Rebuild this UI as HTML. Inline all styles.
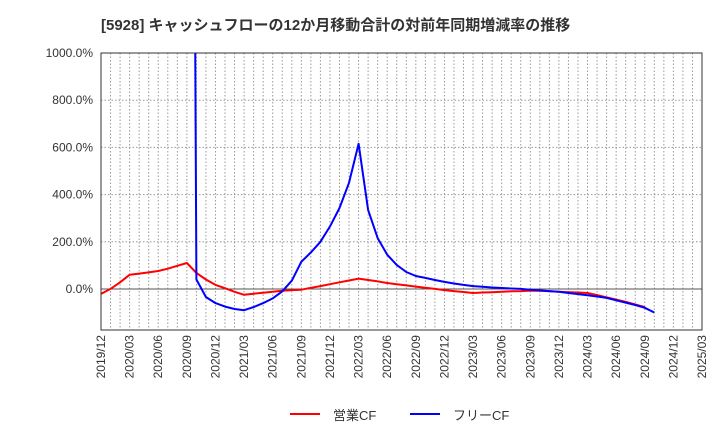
<!DOCTYPE html>
<html><head><meta charset="utf-8"><style>
body{margin:0;background:#fff;width:720px;height:440px;overflow:hidden;font-family:"Liberation Sans","Noto Sans CJK JP",sans-serif}
</style></head><body>
<svg id="c" width="720" height="440" xmlns="http://www.w3.org/2000/svg">
<text x="101" y="30" font-size="15" font-weight="bold" fill="#333" font-family="Liberation Sans, Noto Sans CJK JP, sans-serif">[5928]  キャッシュフローの12か月移動合計の対前年同期増減率の推移</text>
<g id="grid"></g><g id="series"></g><g id="axes"></g>
<g>
<line x1="290" y1="414" x2="320" y2="414" stroke="#f00" stroke-width="2"/>
<text x="333" y="420" font-size="13" fill="#333">営業CF</text>
<line x1="410" y1="414" x2="440" y2="414" stroke="#00f" stroke-width="2"/>
<text x="453" y="420" font-size="13" fill="#333">フリーCF</text>
</g>
</svg>
<script>
const xTickLabels=["2019/12","2020/03","2020/06","2020/09","2020/12","2021/03","2021/06","2021/09","2021/12","2022/03","2022/06","2022/09","2022/12","2023/03","2023/06","2023/09","2023/12","2024/03","2024/06","2024/09","2024/12","2025/03"];
const yTicks=[0,200,400,600,800,1000];
const yTickLabels=["0.0%","200.0%","400.0%","600.0%","800.0%","1000.0%"];
// monthly from 2019/12
const operatingCF=[-21,0,28,60,65,70,76,86,98,110,68,40,17,3,-12,-25,-20,-16,-12,-8,-5,-3,5,12,20,28,36,44,38,32,25,20,15,10,5,0,-5,-9,-13,-17,-15,-14,-12,-10,-9,-7,-8,-10,-12,-14,-15,-17,-26,-36,-45,-55,-66,-77];
const freeCF=[null,null,null,null,null,null,null,null,null,8000,40,-34,-60,-75,-85,-90,-77,-60,-40,-10,35,115,155,200,265,343,450,615,335,215,145,102,72,55,47,38,30,23,17,12,9,6,4,2,0,-3,-6,-9,-12,-17,-22,-27,-32,-38,-48,-58,-68,-80,-100];
const L=101,R=702,T=53,B=330,yMin=-174,yMax=1000,nM=63;
const X=i=>L+(R-L)*i/nM, Y=v=>T+(B-T)*(yMax-v)/(yMax-yMin);
const NS="http://www.w3.org/2000/svg";
function mk(tag,attrs,parent){const e=document.createElementNS(NS,tag);for(const k in attrs)e.setAttribute(k,attrs[k]);parent.appendChild(e);return e;}
const grid=document.getElementById('grid'),ax=document.getElementById('axes'),ser=document.getElementById('series');
for(let m=1;m<nM;m++){const l=mk('line',{x1:X(m),x2:X(m),y1:T,y2:B,stroke:'#999','stroke-dasharray':'1.5,2','stroke-width':1},grid);

}
yTicks.forEach((v,i)=>{const l=mk('line',{x1:L,x2:R,y1:Y(v),y2:Y(v),stroke:v===0?'#555':'#999','stroke-dasharray':v===0?'none':'1.5,2','stroke-width':1},grid);


const t=mk('text',{x:93,y:Y(v)+4,'text-anchor':'end','font-size':12,fill:'#333'},ax);t.textContent=yTickLabels[i];

});
xTickLabels.forEach((s,i)=>{const x=X(i*3)+4;const t=mk('text',{x:0,y:0,transform:`translate(${x},${B+5}) rotate(-90)`,'text-anchor':'end','font-size':12,fill:'#333'},ax);t.textContent=s;

});
const fr=mk('rect',{x:L,y:T,width:R-L,height:B-T,fill:'none',stroke:'#333','stroke-width':1},ax);


const cp=mk('clipPath',{id:'clip'},mk('defs',{},ser));mk('rect',{x:L,y:T,width:R-L,height:B-T},cp);
function path(arr,color,name){let d='';let started=false;arr.forEach((v,i)=>{if(v===null)return;d+=(started?'L':'M')+X(i).toFixed(1)+','+Y(v).toFixed(1);started=true;});
const p=mk('path',{d:d,fill:'none',stroke:color,'stroke-width':2,'clip-path':'url(#clip)','stroke-linejoin':'round'},ser);

}
path(operatingCF,'#f00','operating-cf-line');
path(freeCF,'#00f','free-cf-line');
</script>
</body></html>
